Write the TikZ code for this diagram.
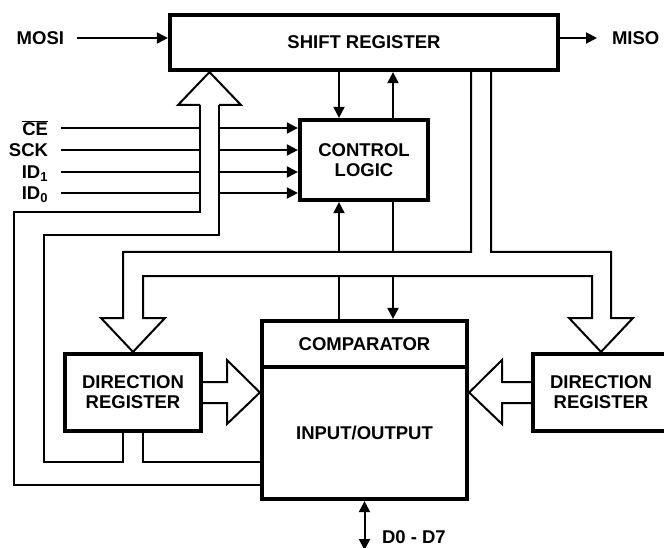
\documentclass[tikz,border=0pt]{standalone}
\usepackage{fontspec}
\setmainfont{Liberation Sans}
\usetikzlibrary{arrows.meta,positioning}

\begin{document}
\begin{tikzpicture}[x=1pt,y=-1pt,line width=2pt,line join=miter,
    >={Triangle[length=11pt,width=11pt]},
    every node/.style={font=\bfseries\fontsize{18.5}{20}\selectfont},
    block/.style={draw,line width=4.2pt,align=center,inner sep=0pt},
    lbl/.style={inner xsep=12pt,inner ysep=0pt,text depth=0pt}]
    \useasboundingbox (0,0) rectangle (664,548);
    \node[block,minimum width=388pt,minimum height=55pt] (shift) at (364,42.5) {SHIFT REGISTER};
    \node[block,minimum width=128pt,minimum height=80pt] (control) at (364,160) {CONTROL\\LOGIC};
    \node[block,minimum width=136pt,minimum height=77pt] (dirL) at (133,392.5) {DIRECTION\\REGISTER};
    \node[block,minimum width=136pt,minimum height=77pt] (dirR) at (601,392.5) {DIRECTION\\REGISTER};
    \node[block,minimum width=205pt,minimum height=46pt] (comp) at (364.5,344) {COMPARATOR};
    \node[block,minimum width=205pt,minimum height=132pt] (io) at (364.5,433) {INPUT/OUTPUT};
    \node[lbl,anchor=east] (mosi) at (77,38) {MOSI};
    \node[lbl,anchor=west,inner xsep=14pt] (miso) at (597,38) {MISO};
    \draw[->] (mosi.east) -- (mosi.east -| shift.west);
    \draw[->] (miso.west -| shift.east) -- (miso.west);
    \coordinate (busL) at (200,105);
    \coordinate (busR) at (219,105);
    \coordinate (busX) at (209.5,0);
    \foreach \name/\txt/\y in {ce/{$\overline{\hbox{CE}}$}/128,sck/SCK/150,id1/{ID\textsubscript{1}}/172,id0/{ID\textsubscript{0}}/193}{
        \node[lbl,anchor=east] (\name) at (61,\y) {\txt};
        \draw (\name.east) -- (\name.east -| busL);
        \draw[->] (\name.east -| busR) -- (\name.east -| control.west);
    }
    \draw (busL) -- (178,105) -- (shift.south -| busX) -- (241,105) -- (busR);
    \coordinate (xa) at (339,0);
    \coordinate (xb) at (393,0);
    \coordinate (xc) at (471,0);
    \coordinate (xd) at (491,0);
    \coordinate (xl1) at (123,0);
    \coordinate (xl2) at (143,0);
    \coordinate (ytop) at (0,252);
    \coordinate (ybot) at (0,276);
    \coordinate (ya) at (0,382);
    \coordinate (yb) at (0,403);
    \coordinate (yio1) at (0,462);
    \coordinate (yio2) at (0,485);
    \draw[->] (shift.south -| xa) -- (control.north -| xa);
    \draw[->] (control.north -| xb) -- (shift.south -| xb);
    \draw[->] (xa |- ytop) -- (control.south -| xa);
    \draw (control.south -| xb) -- (xb |- ytop);
    \draw (xa |- ybot) -- (comp.north -| xa);
    \draw[->] (xb |- ybot) -- (comp.north -| xb);
    \draw (shift.south -| xc) |- (xl1 |- ytop) -- (123,318) -- (101,318) -- (dirL.north) -- (165,318)
        -- (143,318) |- (592,276) -- (592,318) -- (569,318) -- (dirR.north) -- (633,318)
        -- (611,318) |- (xd |- ytop) -- (shift.south -| xd);
    \draw (dirL.east |- ya) -- (227,382) -- (227,360) -- (dirL.east -| io.west) -- (227,424) -- (227,403) -- (dirL.east |- yb);
    \draw (dirR.west |- ya) -- (502,382) -- (502,360) -- (dirR.west -| io.east) -- (502,424) -- (502,403) -- (dirR.west |- yb);
    \draw (busL) |- (14,212) |- (io.west |- yio2);
    \draw (busR) |- (44,235) |- (xl1 |- yio1) -- (dirL.south -| xl1);
    \draw (dirL.south -| xl2) |- (io.west |- yio1);
    \coordinate (dbus) at (364.5,550);
    \draw[<->] (io.south) -- (dbus);
    \node[anchor=west,inner sep=0pt] (data) at (381,537) {D0 - D7};
\end{tikzpicture}
\end{document}
